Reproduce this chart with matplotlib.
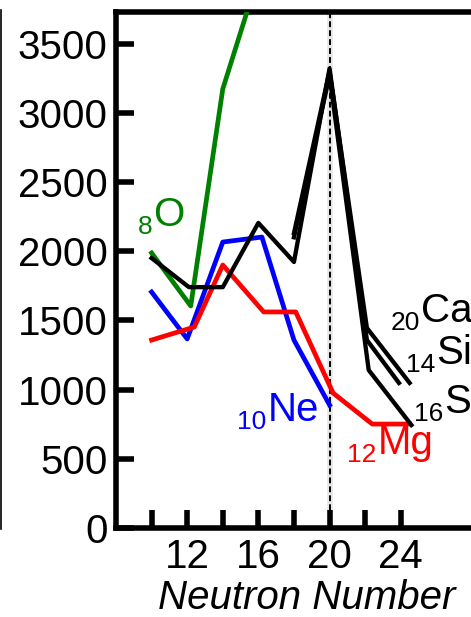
import matplotlib
matplotlib.use("Agg")
import matplotlib.pyplot as plt
from matplotlib.lines import Line2D

plt.rcParams['font.family'] = ['Liberation Sans', 'DejaVu Sans']

# Data (neutron number, energy)
o_n = [10, 12.2, 14, 16]
o_e = [1987, 1604, 3172, 3990]

ne_n = [10, 12, 14, 16.2, 18, 20]
ne_e = [1705, 1366, 2066, 2102, 1358, 889]

mg_n = [10, 12.4, 14, 16.3, 18.1, 20.2, 22.4, 24.5]
mg_e = [1358, 1452, 1900, 1561, 1561, 975, 751, 751]

si_n = [10, 12.1, 14, 16, 18, 20, 22.1, 23.9]
si_e = [1950, 1740, 1740, 2204, 1922, 3320, 1358, 1048]

s_n = [18, 20, 22.2, 24.6]
s_e = [2100, 3270, 1141, 744]

ca_n = [18, 20, 22.1, 24.5]
ca_e = [2130, 3300, 1445, 1048]

xticks = [10, 12, 14, 16, 18, 20, 22, 24]
xtick_labels = ['', '12', '', '16', '', '20', '', '24']
yticks = [0, 500, 1000, 1500, 2000, 2500, 3000, 3500]
magic_n = 20

W, H = 471, 617
fig = plt.figure(figsize=(W / 100, H / 100), dpi=100)
left = 116 / W
bottom = (H - 528) / H
height = (528 - 12) / H
width = (507.5 - 116) / W
ax = fig.add_axes([left, bottom, width, height])

ax.set_xlim(8, 30)
ax.set_ylim(0, 3728)

# magic number line
ax.axvline(magic_n, color='#e6e6e6', lw=4, zorder=1)
ax.axvline(magic_n, color='black', lw=1.4, ls=(0, (3, 1.6)), zorder=2)

lw = 3.4
ax.plot(o_n, o_e, color='#008000', lw=lw, zorder=3)
ax.plot(ne_n, ne_e, color='#0000ff', lw=lw, zorder=3)
ax.plot(mg_n, mg_e, color='#ff0000', lw=lw, zorder=3)
ax.plot(si_n, si_e, color='black', lw=3.1, zorder=3)
ax.plot(s_n, s_e, color='black', lw=3.1, zorder=3)
ax.plot(ca_n, ca_e, color='black', lw=3.1, zorder=3)

for sp in ax.spines.values():
    sp.set_linewidth(4)
ax.spines['right'].set_visible(False)

ax.set_xticks(xticks)
ax.set_xticklabels(xtick_labels)
ax.set_yticks(yticks)
ax.set_yticklabels([str(v) for v in yticks])
ax.tick_params(axis='both', direction='in', length=13, width=4, labelsize=29, colors='black')
ax.tick_params(axis='y', pad=6)
ax.tick_params(axis='x', pad=7)
ax.tick_params(top=False, right=False)

ax.set_xlabel('Neutron Number', fontsize=29, style='italic', labelpad=2)
ax.xaxis.set_label_coords((307 - 116) / (507.5 - 116), -0.099)


def px2data(px, py):
    return 12 + (px - 188) / 17.75, (528 - py) * 7.225


def label(sub, sym, px, py, color):
    # px: x where subscript ends and symbol starts; py: baseline of symbol
    x, y = px2data(px, py)
    ax.text(x, y, sym, color=color, fontsize=29, ha='left', va='baseline', zorder=5)
    xs, ys = px2data(px - 1, py + 8)
    ax.text(xs, ys, sub, color=color, fontsize=19, ha='right', va='baseline', zorder=5)


label('8', 'O', 154, 226, '#008000')
label('10', 'Ne', 268, 421, '#0000ff')
label('12', 'Mg', 378, 454, '#ff0000')
label('20', 'Ca', 421, 322, 'black')
label('14', 'Si', 436, 364, 'black')
label('16', 'S', 444, 413, 'black')

# thin border line of neighbouring panel on the far left
fig.add_artist(Line2D([1.2 / W, 1.2 / W], [(H - 529) / H, (H - 10) / H],
                      transform=fig.transFigure, color='black', lw=1.2))

fig.savefig('out.png', dpi=100)
